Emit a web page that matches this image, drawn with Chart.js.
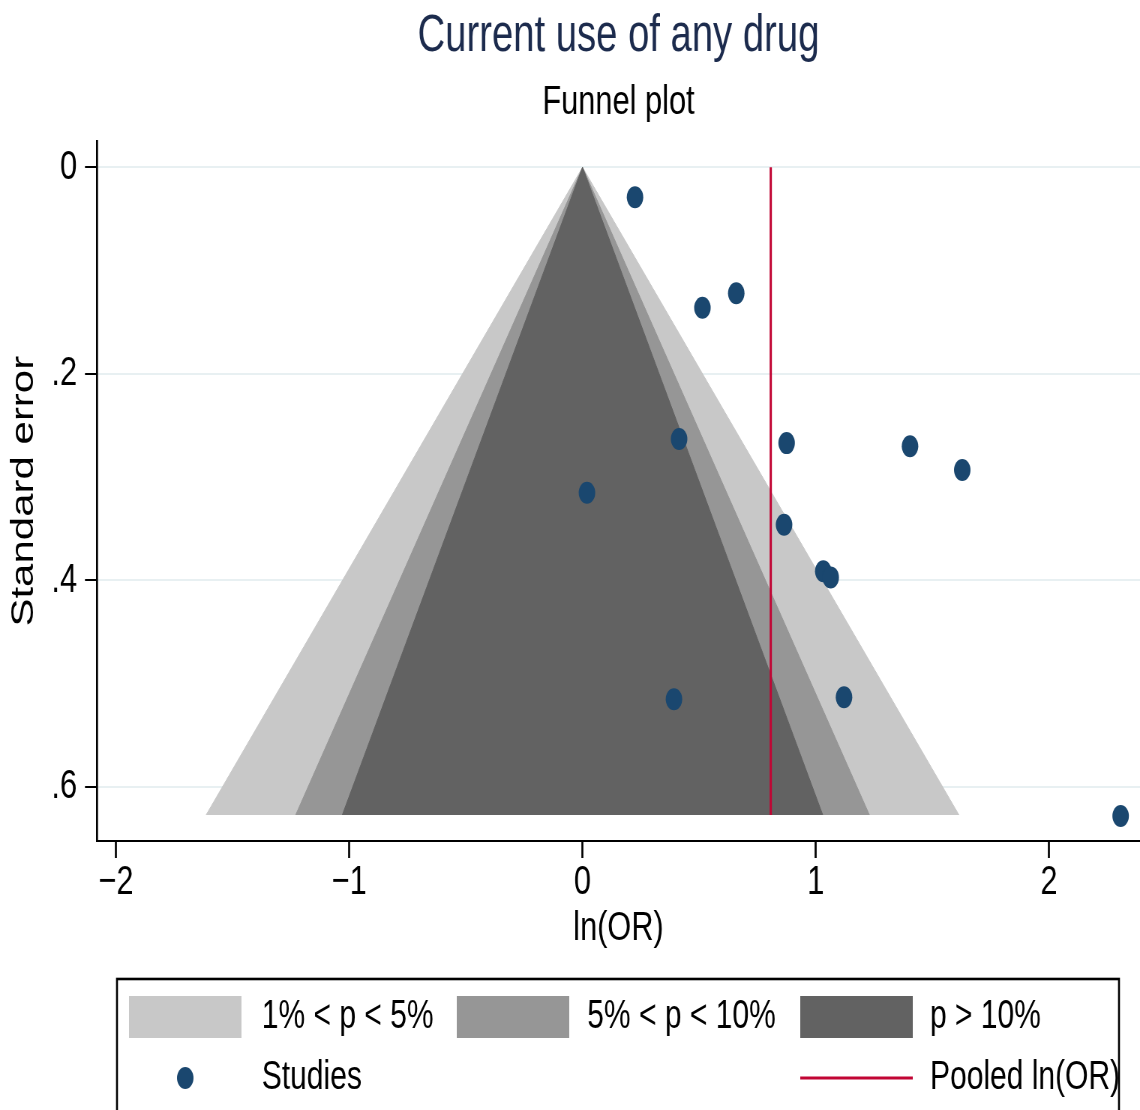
<!DOCTYPE html>
<html>
<head>
<meta charset="utf-8">
<title>Current use of any drug – Funnel plot</title>
<script src="https://cdn.jsdelivr.net/npm/chart.js@4/dist/chart.umd.min.js"></script>
<style>
  html, body { margin: 0; padding: 0; background: #ffffff; overflow: hidden; }
  /* the graph is laid out on a wider canvas and compressed horizontally */
  #wrap { width: 1520px; height: 1110px; transform: scaleX(0.75); transform-origin: 0 0; }
  canvas { display: block; }
</style>
</head>
<body>
<div id="wrap"><canvas id="funnel" width="1520" height="1110"></canvas></div>
<script>
// ---- study estimates ----
const studyLnOR = [0.225, 0.514, 0.659, 0.414, 0.875, 1.404, 1.628, 0.019, 0.864, 1.032, 1.064, 0.392, 1.121, 2.307];
const studySE   = [0.029, 0.136, 0.122, 0.263, 0.267, 0.270, 0.293, 0.315, 0.346, 0.391, 0.397, 0.515, 0.513, 0.628];

// pooled estimate
const pooledLnOR = 0.807;

// significance contours: half-width of each band at the widest SE
const contourLabels    = ['1% < p < 5%', '5% < p < 10%', 'p > 10%'];
const contourHalfWidth = [1.614, 1.230, 1.030];
const contourSEmax     = 0.627;

// axes
const xTickValues = [-2, -1, 0, 1, 2];
const xTickLabels = ['\u22122', '\u22121', '0', '1', '2'];
const yTickValues = [0, 0.2, 0.4, 0.6];
const yTickLabels = ['0', '.2', '.4', '.6'];

const FONT = '"Liberation Sans", Arial, Helvetica, sans-serif';
const NAVY = '#1a476f';
const RED = '#c10534';
const SHADES = ['#c8c8c8', '#969696', '#626262'];

const studies = studyLnOR.map((x, i) => ({ x: x, y: studySE[i] }));

function contourDataset(k) {
  const hw = contourHalfWidth[k];
  return {
    type: 'line',
    label: contourLabels[k],
    data: [{ x: -hw, y: contourSEmax }, { x: 0, y: 0 }, { x: hw, y: contourSEmax }],
    borderColor: SHADES[k],
    borderWidth: 1,
    backgroundColor: SHADES[k],
    fill: { value: contourSEmax },
    pointRadius: 0,
    tension: 0,
    order: 4 - k
  };
}

// legend block under the axes
const legendPlugin = {
  id: 'stataLegend',
  afterDraw(chart) {
    const c = chart.ctx;
    const ds = chart.data.datasets;
    c.save();
    c.strokeStyle = '#000';
    c.lineWidth = 2.6;
    c.strokeRect(156, 979, 1336, 200);

    const keyX = [172, 609, 1067];
    const textX = [349, 783, 1240];
    const keyW = 150;
    const row1 = 1017, row2 = 1078;

    c.font = '40px ' + FONT;
    c.textBaseline = 'middle';
    c.textAlign = 'left';
    c.fillStyle = '#000';

    // shaded bands
    [4, 3, 2].forEach((di, k) => {
      c.fillStyle = ds[di].backgroundColor;
      c.fillRect(keyX[k], row1 - 21, keyW, 42);
      c.fillStyle = '#000';
      c.fillText(ds[di].label, textX[k], row1);
    });

    // studies marker
    c.fillStyle = ds[0].backgroundColor;
    c.beginPath();
    c.arc(keyX[0] + keyW / 2, row2, 11, 0, Math.PI * 2);
    c.fill();
    c.fillStyle = '#000';
    c.fillText(ds[0].label, textX[0], row2);

    // pooled line
    c.strokeStyle = ds[1].borderColor;
    c.lineWidth = 3;
    c.beginPath();
    c.moveTo(keyX[2], row2);
    c.lineTo(keyX[2] + keyW, row2);
    c.stroke();
    c.fillText(ds[1].label, textX[2], row2);
    c.restore();
  }
};

new Chart(document.getElementById('funnel'), {
  type: 'scatter',
  data: {
    datasets: [
      {
        label: 'Studies',
        data: studies,
        backgroundColor: NAVY,
        borderColor: NAVY,
        borderWidth: 0,
        pointRadius: 11,
        pointHoverRadius: 11,
        order: 0
      },
      {
        type: 'line',
        label: 'Pooled ln(OR)',
        data: [{ x: pooledLnOR, y: 0 }, { x: pooledLnOR, y: contourSEmax }],
        borderColor: RED,
        borderWidth: 3,
        pointRadius: 0,
        fill: false,
        order: 1
      },
      contourDataset(2),
      contourDataset(1),
      contourDataset(0)
    ]
  },
  options: {
    responsive: false,
    animation: false,
    devicePixelRatio: 1,
    events: [],
    layout: { autoPadding: false, padding: { top: 0, left: 0, right: 0, bottom: 156.4 } },
    plugins: {
      legend: { display: false },
      tooltip: { enabled: false },
      title: {
        display: true,
        text: 'Current use of any drug',
        fullSize: false,
        color: '#1c2b4d',
        font: { family: FONT, size: 51, weight: 'normal' },
        padding: { top: 6, bottom: 5 }
      },
      subtitle: {
        display: true,
        text: 'Funnel plot',
        fullSize: false,
        color: '#000',
        font: { family: FONT, size: 41, weight: 'normal' },
        padding: { top: 6, bottom: 14 }
      }
    },
    scales: {
      x: {
        type: 'linear',
        min: -2.0817,
        max: 2.39,
        afterBuildTicks: s => { s.ticks = xTickValues.map(v => ({ value: v })); },
        afterFit: s => { s.height = 112.6; s.paddingLeft = 0; s.paddingRight = 0; },
        ticks: {
          callback: (v, i) => xTickLabels[i],
          color: '#000',
          font: { family: FONT, size: 41 },
          padding: 0,
          maxRotation: 0,
          autoSkip: false
        },
        grid: { drawOnChartArea: false, tickLength: 17, tickWidth: 2.7, tickColor: '#000' },
        border: { color: '#000', width: 2 },
        title: {
          display: true,
          text: 'ln(OR)',
          color: '#000',
          font: { family: FONT, size: 41 },
          padding: { top: 0, bottom: 0 }
        }
      },
      y: {
        type: 'linear',
        reverse: true,
        min: -0.0251,
        max: 0.6522,
        afterBuildTicks: s => { s.ticks = yTickValues.map(v => ({ value: v })); },
        afterFit: s => { s.width = 129.3; s.paddingTop = 0; s.paddingBottom = 0; },
        ticks: {
          callback: (v, i) => yTickLabels[i],
          color: '#000',
          font: { family: FONT, size: 41 },
          padding: 10.6,
          autoSkip: false
        },
        grid: { color: '#e8f0f2', lineWidth: 2, tickColor: '#000', tickWidth: 2, tickLength: 16 },
        border: { color: '#000', width: 2.7 },
        title: {
          display: true,
          text: 'Standard error',
          color: '#000',
          font: { family: FONT, size: 42 },
          padding: { top: 7, bottom: 0 }
        }
      }
    }
  },
  plugins: [legendPlugin]
});
</script>
</body>
</html>
